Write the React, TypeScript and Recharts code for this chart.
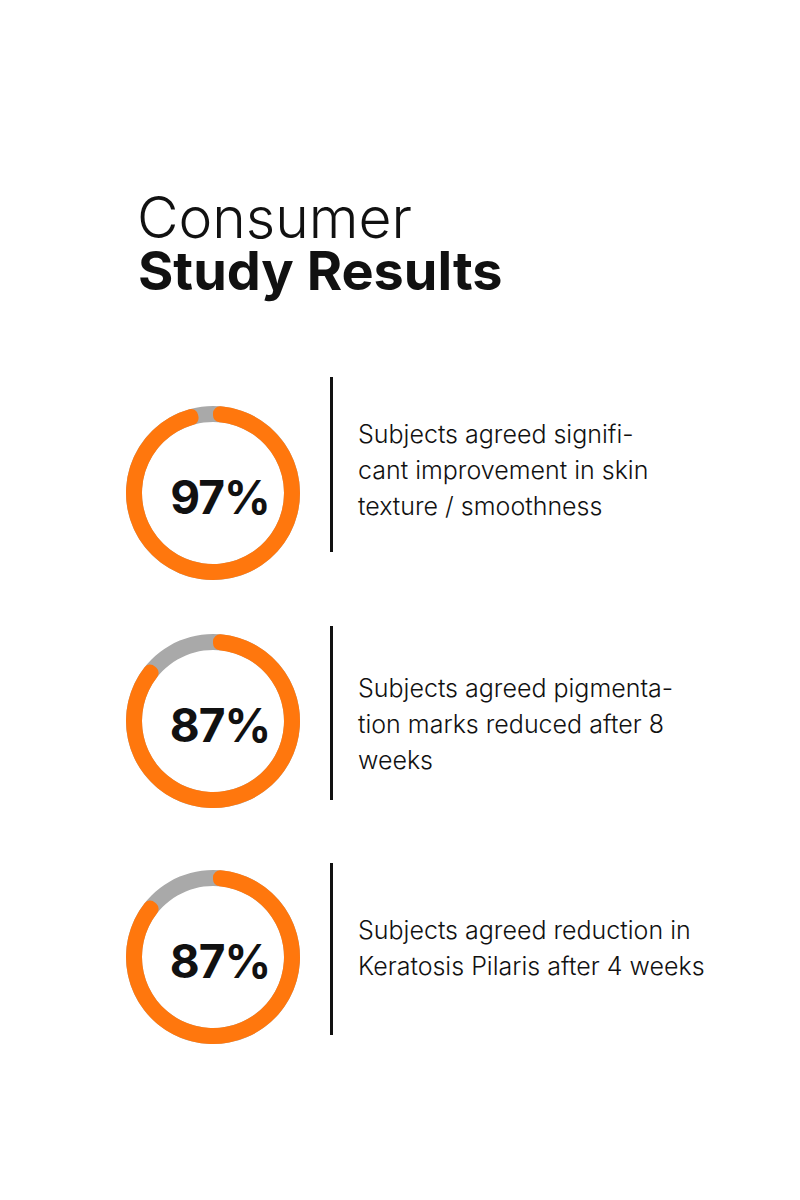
import { PieChart, Pie, Cell } from 'recharts';

const agreed = [97, 87, 87];
const rest = [3, 13, 13];
const labels = ['97%', '87%', '87%'];
const descriptions = [
  ['Subjects agreed signifi-', 'cant improvement in skin', 'texture / smoothness'],
  ['Subjects agreed pigmenta-', 'tion marks reduced after 8', 'weeks'],
  ['Subjects agreed reduction in', 'Keratosis Pilaris after 4 weeks'],
];

const ORANGE = '#ff770d';
const GREY = '#a9a9a9';
const FONT = 'Inter, "Noto Sans", sans-serif';

// layout per row: donut center y, divider top/bottom, text block middle
const rows = [
  { cy: 493, top: 377, bottom: 552, mid: 470 },
  { cy: 721, top: 626, bottom: 800, mid: 724 },
  { cy: 957, top: 863, bottom: 1035, mid: 948 },
];

const SIZE = 200;
const NO_MARGIN = { top: 0, right: 0, bottom: 0, left: 0 };

function Donut({ index }: { index: number }) {
  const data = [
    { name: 'agreed', value: agreed[index] },
    { name: 'rest', value: rest[index] },
  ];
  return (
    <PieChart width={SIZE} height={SIZE} margin={NO_MARGIN}>
      <Pie
        data={[{ name: 'all', value: 1 }]}
        cx={SIZE / 2}
        cy={SIZE / 2}
        innerRadius={71}
        outerRadius={87}
        startAngle={90}
        endAngle={-270}
        dataKey="value"
        stroke="none"
        fill={GREY}
        isAnimationActive={false}
      />
      <Pie
        data={data}
        cx={SIZE / 2}
        cy={SIZE / 2}
        innerRadius={71}
        outerRadius={87}
        startAngle={90}
        endAngle={-270}
        cornerRadius={7}
        dataKey="value"
        stroke="none"
        isAnimationActive={false}
      >
        {data.map((entry, i) => (
          <Cell key={`cell-${i}`} fill={i === 0 ? ORANGE : 'transparent'} />
        ))}
      </Pie>
      <text
        x={SIZE / 2 + 7}
        y={SIZE / 2 + 4}
        textAnchor="middle"
        dominantBaseline="central"
        fontFamily={FONT}
        fontWeight={700}
        fontSize={46}
        letterSpacing={-1}
        fill="#111"
      >
        {labels[index]}
      </text>
    </PieChart>
  );
}

export default function App() {
  return (
    <div
      style={{
        position: 'absolute',
        left: 0,
        top: 0,
        width: 800,
        height: 1200,
        background: '#fff',
        fontFamily: FONT,
        color: '#111',
      }}
    >
      <div style={{ position: 'absolute', left: 137, top: 190, fontSize: 57, fontWeight: 300, lineHeight: '56px' }}>
        Consumer
      </div>
      <div style={{ position: 'absolute', left: 138, top: 246, fontSize: 54, fontWeight: 700, lineHeight: '50px' }}>
        Study Results
      </div>

      {rows.map((r, i) => (
        <div key={i}>
          <div style={{ position: 'absolute', left: 213 - SIZE / 2, top: r.cy - SIZE / 2 }}>
            <Donut index={i} />
          </div>
          <div
            style={{
              position: 'absolute',
              left: 330,
              top: r.top,
              width: 3,
              height: r.bottom - r.top,
              background: '#111',
            }}
          />
          <div
            style={{
              position: 'absolute',
              left: 358,
              top: r.mid - (descriptions[i].length * 36) / 2,
              fontSize: 25,
              fontWeight: 300,
              lineHeight: '36px',
              whiteSpace: 'nowrap',
            }}
          >
            {descriptions[i].map((line, j) => (
              <div key={j}>{line}</div>
            ))}
          </div>
        </div>
      ))}
    </div>
  );
}
